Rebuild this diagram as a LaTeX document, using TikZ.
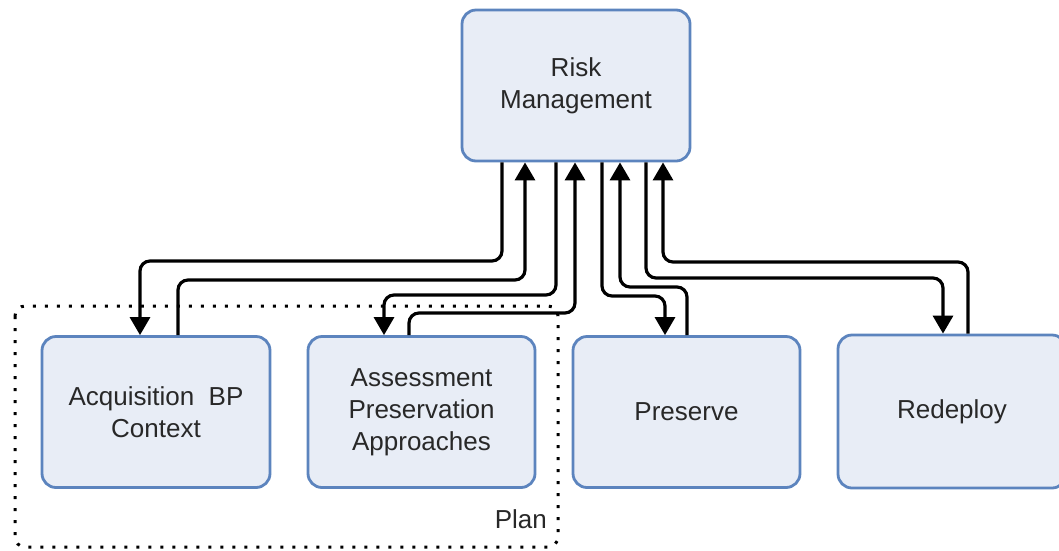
\documentclass[tikz,border=0pt]{standalone}
\usepackage{fontspec}
\setmainfont{Liberation Sans}
\usetikzlibrary{arrows.meta}
\definecolor{boxfill}{RGB}{232,237,246}
\definecolor{boxline}{RGB}{92,132,190}
\definecolor{txt}{RGB}{40,40,40}
\begin{document}
\begin{tikzpicture}[x=1pt,y=-1pt,
  box/.style={draw=boxline,fill=boxfill,line width=2.8pt,rounded corners=14pt,
    minimum width=228pt,inner sep=0pt,align=center,text=txt,
    font=\fontsize{26}{32}\selectfont},
  conn/.style={draw=black,line width=3.2pt,rounded corners=10pt},
  tip/.style={-{Triangle[width=20pt,length=18pt]}},
  planbox/.style={draw=black,line width=3pt,dash pattern=on 3pt off 9pt,rounded corners=10pt}]
\useasboundingbox (0,0) rectangle (1059,550);
\clip (0,0) rectangle (1059,550);
% plan region
\draw[planbox] (15,306) rectangle (558,547);
\node[anchor=base east,text=txt,font=\fontsize{26}{32}\selectfont,inner sep=0pt] (plan) at (547,528) {Plan};
% boxes
\node[box,minimum height=151pt] (rm) at (576,85.5) {Risk\\Management};
\node[box,minimum height=151pt] (acq) at (156,412) {Acquisition~~BP\\Context};
\node[box,minimum height=151pt,minimum width=227pt] (ass) at (421.5,412) {Assessment\\Preservation\\Approaches};
\node[box,minimum height=151pt,minimum width=227pt] (pre) at (686.5,412) {Preserve};
\node[box,minimum height=153pt] (red) at (952,411.5) {Redeploy};
% connectors
\draw[conn,tip] (rm.south -| 502,0) -- (502,261) -- (140,261) -- (acq.north -| 140,0);
\draw[conn,tip] (acq.north -| 178,0) -- (178,280) -- (525,280) -- (rm.south -| 525,0);
\draw[conn,tip] (rm.south -| 556,0) -- (556,295) -- (384,295) -- (ass.north -| 384,0);
\draw[conn,tip] (ass.north -| 409,0) -- (409,313) -- (575,313) -- (rm.south -| 575,0);
\draw[conn,tip] (rm.south -| 602,0) -- (602,296) -- (665,296) -- (pre.north -| 665,0);
\draw[conn,tip] (pre.north -| 687,0) -- (687,287) -- (620,287) -- (rm.south -| 620,0);
\draw[conn,tip] (rm.south -| 646,0) -- (646,278) -- (943,278) -- (red.north -| 943,0);
\draw[conn,tip] (red.north -| 968,0) -- (968,262) -- (663,262) -- (rm.south -| 663,0);
\end{tikzpicture}
\end{document}
